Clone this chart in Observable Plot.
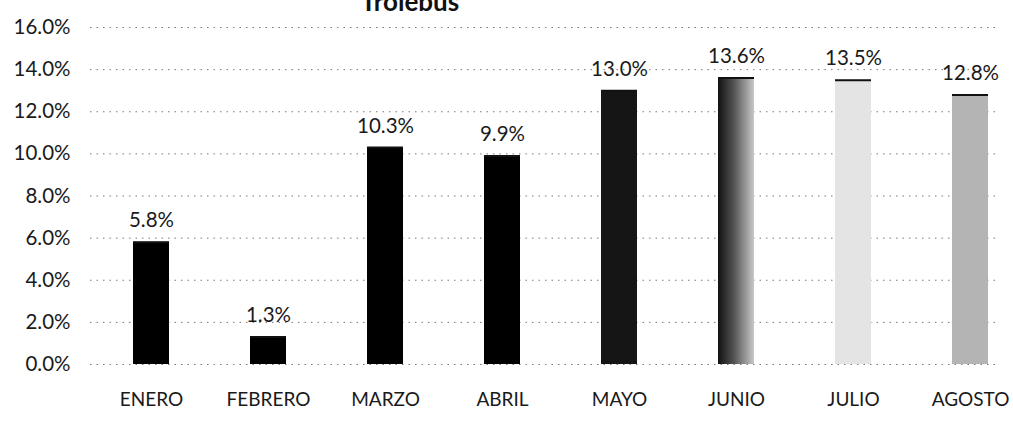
<!DOCTYPE html>
<html><head><meta charset="utf-8">
<script src="https://cdn.jsdelivr.net/npm/d3@7"></script>
<script src="https://cdn.jsdelivr.net/npm/@observablehq/plot@0.6"></script>
<style>
body{margin:0;background:#fff;overflow:hidden;}
#wrap{position:relative;width:1013px;height:422px;overflow:hidden;background:#fff;}
#title{position:absolute;top:-12px;left:0;width:820px;text-align:center;font:bold 26px/26px Lato, sans-serif;color:#111;}
</style></head><body>
<div id="wrap"><div id="chart"></div><div id="title">Trolebus</div></div>
<script>
const months = ["ENERO","FEBRERO","MARZO","ABRIL","MAYO","JUNIO","JULIO","AGOSTO"];
const values = [5.8, 1.3, 10.3, 9.9, 13.0, 13.6, 13.5, 12.8];
const yTicks = [0, 2, 4, 6, 8, 10, 12, 14, 16];
const data = months.map((m, i) => ({month: m, value: values[i]}));
const pct = d => d.toFixed(1) + "%";

const plot = Plot.plot({
  width: 1013, height: 422,
  marginLeft: 90, marginRight: 13, marginTop: 27, marginBottom: 58,
  style: {fontFamily: "Lato, sans-serif", fontSize: "19px", color: "#1a1a1a", background: "transparent"},
  x: {domain: months, paddingInner: 0.69, paddingOuter: 0.225, align: 0.79, label: null},
  y: {domain: [0, 16], label: null},
  color: {domain: months, range: ["#000", "#000", "#000", "#000", "#151515", "url(#gJunio)", "#e4e4e4", "#b4b4b4"]},
  marks: [
    Plot.ruleY(yTicks, {stroke: "#777", strokeDasharray: "1.5,5"}),
    Plot.barY(data, {x: "month", y: "value", fill: "month"}),
    Plot.tickY(data, {x: "month", y: "value", stroke: "#111", strokeWidth: 2}),
    Plot.text(data, {x: "month", y: "value", text: d => pct(d.value), lineAnchor: "bottom", dy: -15, fontSize: 20.5, fill: "#1a1a1a"}),
    Plot.axisY(yTicks, {tickSize: 0, tickPadding: 20, tickFormat: pct, fontSize: 20.5}),
    Plot.axisX({tickSize: 0, tickPadding: 28, fontSize: 19})
  ]
});
const svg = d3.select(plot);
const defs = svg.insert("defs", ":first-child");
const g = defs.append("linearGradient").attr("id", "gJunio").attr("x1", "0").attr("x2", "1").attr("y1", "0").attr("y2", "0");
g.append("stop").attr("offset", "0%").attr("stop-color", "#111");
g.append("stop").attr("offset", "45%").attr("stop-color", "#555");
g.append("stop").attr("offset", "100%").attr("stop-color", "#c8c8c8");
document.getElementById("chart").appendChild(plot);
</script>
</body></html>
